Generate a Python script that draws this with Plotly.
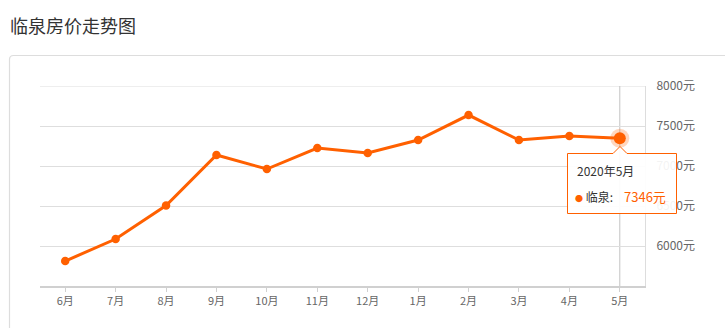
import plotly.graph_objects as go

# ---- data ----
months = ["6月", "7月", "8月", "9月", "10月", "11月", "12月", "1月", "2月", "3月", "4月", "5月"]
prices = [5812, 6087, 6505, 7137, 6962, 7225, 7162, 7325, 7637, 7325, 7375, 7346]
y_ticks = [6000, 6500, 7000, 7500, 8000]
y_tick_labels = ["6000元", "6500元", "7000元", "7500元", "8000元"]
title_text = "临泉房价走势图"
series_name = "临泉"
tooltip_title = "2020年5月"
hl_index = len(months) - 1

ORANGE = "#ff6000"
FONT = "Noto Sans CJK SC"

# plot area geometry (pixels) for paper-coordinate decorations
W, H = 725, 328
L, R, T, B = 40, 645, 86, 286
PW, PH = R - L, B - T


def px(x):
    return (x - L) / PW


def py(y):
    return (B - y) / PH


fig = go.Figure()

fig.add_trace(go.Scatter(
    x=months, y=prices, mode="lines+markers",
    line=dict(color=ORANGE, width=3),
    marker=dict(color=ORANGE, size=8.5),
    name=series_name, hoverinfo="skip",
))
# highlighted point (halo + dot)
fig.add_trace(go.Scatter(
    x=[months[hl_index]], y=[prices[hl_index]], mode="markers",
    marker=dict(color="rgba(255,96,0,0.25)", size=19), hoverinfo="skip",
))
fig.add_trace(go.Scatter(
    x=[months[hl_index]], y=[prices[hl_index]], mode="markers",
    marker=dict(color=ORANGE, size=12), hoverinfo="skip",
))

shapes = []
# top gridline (at the range edge)
shapes.append(dict(type="line", xref="paper", yref="y", x0=0, x1=1, y0=y_ticks[-1], y1=y_ticks[-1],
                   line=dict(color="#dedede", width=1), layer="below"))
# crosshair
shapes.append(dict(type="line", xref="x", yref="paper", x0=months[hl_index], x1=months[hl_index],
                   y0=0, y1=1, line=dict(color="#c4c4c4", width=1), layer="between"))

# container border with rounded corner
cx, cy, r = 9.5, 55.5, 4
path = (f"M {px(cx)},{py(340)} L {px(cx)},{py(cy + r)} "
        f"Q {px(cx)},{py(cy)} {px(cx + r)},{py(cy)} L {px(740)},{py(cy)}")
shapes.append(dict(type="path", xref="paper", yref="paper", path=path,
                   line=dict(color="#dddddd", width=1.2), layer="below"))

# tooltip box with caret
bx0, bx1, by0, by1 = 567.5, 676.5, 153.5, 213.5
tipx, tipy, cw = 620, 146.5, 7
tp = (f"M {px(bx0)},{py(by0)} L {px(tipx - cw)},{py(by0)} L {px(tipx)},{py(tipy)} "
      f"L {px(tipx + cw)},{py(by0)} L {px(bx1)},{py(by0)} L {px(bx1)},{py(by1)} "
      f"L {px(bx0)},{py(by1)} Z")
shapes.append(dict(type="path", xref="paper", yref="paper", path=tp,
                   line=dict(color=ORANGE, width=1), fillcolor="rgba(255,255,255,0.92)",
                   layer="above"))

annotations = [
    dict(xref="paper", yref="paper", x=px(575), y=py(170), xanchor="left", yanchor="middle",
         text=tooltip_title, showarrow=False, font=dict(family=FONT, size=12, color="#333333")),
    dict(xref="paper", yref="paper", x=px(573), y=py(196), xanchor="left", yanchor="middle",
         text=f"<span style='color:{ORANGE};font-size:8px'>●</span> {series_name}:", showarrow=False,
         font=dict(family=FONT, size=12, color="#333333")),
    dict(xref="paper", yref="paper", x=px(668), y=py(196), xanchor="right", yanchor="middle",
         text=f"{prices[hl_index]}元", showarrow=False,
         font=dict(family=FONT, size=13, color=ORANGE)),
]

fig.update_layout(
    width=W, height=H,
    margin=dict(l=L, r=W - R, t=T, b=H - B),
    paper_bgcolor="white", plot_bgcolor="white",
    showlegend=False, hovermode=False,
    font=dict(family=FONT, color="#666666"),
    title=dict(text=title_text, xref="container", yref="container",
               x=10 / W, y=1 - 27 / H, xanchor="left", yanchor="middle",
               font=dict(family=FONT, size=18, color="#333333")),
    shapes=shapes, annotations=annotations,
)

fig.update_xaxes(
    type="category", range=[-0.5, len(months) - 0.5],
    showgrid=False, showline=True, linecolor="#d0d0d0", linewidth=2,
    ticks="outside", ticklen=4, tickcolor="#d0d0d0", tickwidth=1,
    tickfont=dict(family=FONT, size=11, color="#666666"), zeroline=False,
)
fig.update_yaxes(
    side="right", range=[5500, 8000], tickvals=y_ticks, ticktext=y_tick_labels,
    showgrid=True, gridcolor="#dedede", gridwidth=1,
    showline=True, linecolor="#dddddd", linewidth=1, zeroline=False,
    ticks="", ticklabelstandoff=8,
    tickfont=dict(family=FONT, size=12, color="#666666"),
)

fig.write_html("out.html")
